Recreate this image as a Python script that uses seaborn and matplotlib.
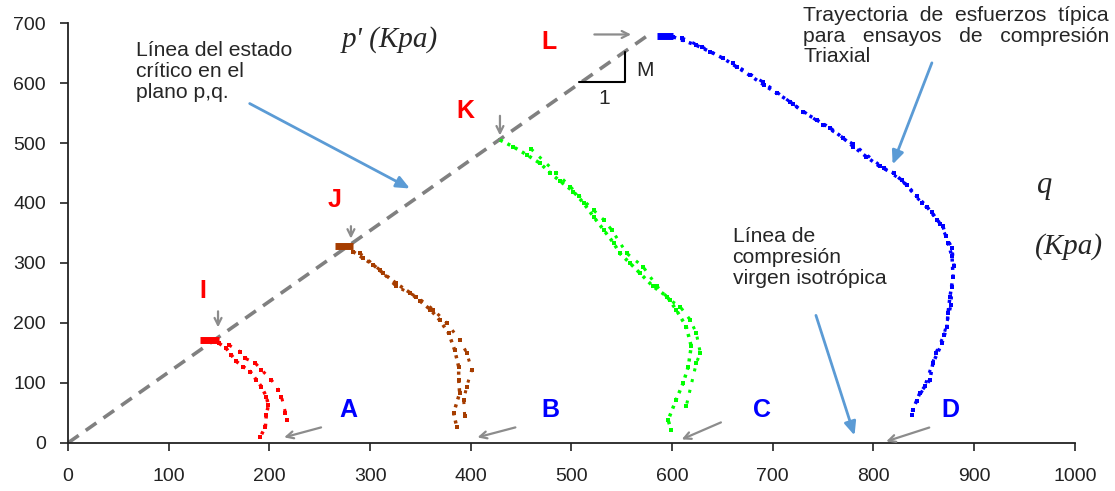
import matplotlib
matplotlib.use('Agg')
import matplotlib.pyplot as plt
import seaborn as sns

# Data (p' in x, q in y, kPa)
csl_p = [0, 578]
csl_q = [0, 682]

# I -> A (red)
red_cap_p = [131, 150]
red_cap_q = [172, 172]
red_main_p = [150, 157, 162, 167, 174, 181, 187, 192, 197, 199, 197, 196, 191]
red_main_q = [166, 158, 147, 136, 127, 119, 105, 94, 77, 63, 47, 27, 10]
red_out_p = [160, 171, 176, 186, 192, 202, 209, 212, 216, 217]
red_out_q = [163, 152, 141, 133, 122, 105, 88, 77, 50, 38]

# J -> B (brown)
brown_cap_p = [265, 283]
brown_cap_q = [328, 328]
brown_main_p = [283, 293, 303, 313, 326, 340, 350, 360, 369, 378, 384, 388, 388, 389, 383, 386]
brown_main_q = [319, 308, 297, 283, 266, 250, 236, 222, 205, 183, 155, 127, 105, 83, 50, 27]
brown_out_p = [290, 310, 326, 346, 363, 376, 389, 396, 401, 396, 393, 394]
brown_out_q = [316, 288, 261, 244, 222, 200, 172, 150, 122, 94, 72, 44]

# K -> C (green)
green_main_p = [429, 442, 456, 469, 479, 489, 502, 512, 522, 532, 542, 548, 558, 568,
                581, 595, 604, 614, 619, 616, 611, 604, 596, 599]
green_main_q = [505, 494, 480, 466, 450, 436, 419, 400, 377, 355, 333, 316, 300, 283,
                261, 244, 222, 194, 161, 127, 100, 72, 38, 22]
green_out_p = [460, 485, 499, 508, 522, 532, 540, 555, 571, 585, 598, 608, 618, 624,
               628, 624, 614]
green_out_q = [490, 450, 427, 411, 388, 372, 355, 316, 294, 261, 238, 227, 205, 183,
               150, 133, 61]

# L -> D (blue)
blue_cap_p = [585, 601]
blue_cap_q = [678, 678]
blue_main_p = [601, 611, 624, 638, 651, 664, 677, 691, 704, 717, 730, 744, 757, 770,
               780, 793, 806, 820, 833, 843, 853, 863, 869, 874, 878, 879, 876, 874,
               873, 868, 859, 856, 846, 839, 838]
blue_main_q = [677, 671, 663, 652, 641, 627, 613, 597, 583, 569, 552, 538, 525, 508,
               494, 477, 461, 450, 430, 411, 394, 372, 361, 333, 311, 277, 244, 216,
               194, 166, 133, 105, 83, 55, 47]
blue_out_p = [610, 630, 660, 690, 720, 750, 780, 810, 828, 848, 858, 866, 872, 878,
              880, 878, 877, 870, 862, 851, 843]
blue_out_q = [675, 660, 633, 602, 565, 530, 498, 458, 438, 400, 385, 365, 345, 325,
              295, 260, 230, 180, 150, 95, 70]

# slope triangle
tri_p = [508, 553, 553]
tri_q = [602, 602, 652]

sns.set_style("ticks")
plt.rcParams['font.family'] = ['Liberation Sans', 'DejaVu Sans']

fig = plt.figure(figsize=(11.15, 4.91), dpi=100)
ax = fig.add_axes([0.061, 0.098, 0.903, 0.855])

# linea de estado critico
sns.lineplot(x=csl_p, y=csl_q, color='#808080', lw=2.6, dashes=False,
             linestyle=(0, (3.6, 2.4)), ax=ax)

paths = [
    ('#ff0000', red_cap_p, red_cap_q, red_main_p, red_main_q, red_out_p, red_out_q),
    ('#a63d00', brown_cap_p, brown_cap_q, brown_main_p, brown_main_q, brown_out_p, brown_out_q),
    ('#00ff00', None, None, green_main_p, green_main_q, green_out_p, green_out_q),
    ('#0000ff', blue_cap_p, blue_cap_q, blue_main_p, blue_main_q, blue_out_p, blue_out_q),
]
for col, cp, cq, mp, mq, op, oq in paths:
    if cp is not None:
        sns.lineplot(x=cp, y=cq, color=col, lw=5, sort=False, estimator=None,
                     solid_capstyle='butt', ax=ax)
    sns.lineplot(x=mp, y=mq, color=col, lw=2.5, sort=False, estimator=None,
                 linestyle=(0, (0.9, 1.5)), dash_capstyle='butt', ax=ax)
    sns.lineplot(x=op, y=oq, color=col, lw=2.2, sort=False, estimator=None,
                 linestyle=(0, (1, 2.6)), dash_capstyle='butt', ax=ax)
    sns.scatterplot(x=mp + op, y=mq + oq, color=col, marker='s', s=7,
                    linewidth=0, ax=ax)

sns.lineplot(x=tri_p, y=tri_q, color='black', lw=1.5, sort=False, estimator=None, ax=ax)
ax.text(573, 621, 'M', fontsize=15, ha='center', va='center')
ax.text(533, 574, '1', fontsize=15, ha='center', va='center')

ax.set_xlim(0, 1000)
ax.set_ylim(0, 700)
ax.set_xticks(range(0, 1001, 100))
ax.set_yticks(range(0, 701, 100))
ax.tick_params(axis='x', labelsize=14, length=6, width=1.2, pad=12, colors='#222222')
ax.tick_params(axis='y', labelsize=14, length=6, width=1.2, pad=10, colors='#222222')
for s in ['top', 'right']:
    ax.spines[s].set_visible(False)
for s in ['left', 'bottom']:
    ax.spines[s].set_linewidth(1.3)
    ax.spines[s].set_color('#222222')
ax.set_xlabel('')
ax.set_ylabel('')

# etiquetas de puntos
for t, x, y in [('I', 134, 253), ('J', 265, 405), ('K', 395, 553), ('L', 478, 668)]:
    ax.text(x, y, t, color='#ff0000', fontsize=18, fontweight='bold',
            ha='center', va='center')
for t, x, y in [('A', 278, 55), ('B', 479, 55), ('C', 689, 55), ('D', 876, 55)]:
    ax.text(x, y, t, color='#0000ff', fontsize=18, fontweight='bold',
            ha='center', va='center')

gray = dict(arrowstyle='->,head_length=0.5,head_width=0.25', color='#8c8c8c', lw=1.6)
gray_arrows = [
    ((149, 224), (149, 188)),
    ((281, 366), (281, 336)),
    ((429, 550), (429, 508)),
    ((520, 681), (562, 681)),
    ((254, 27), (212, 8)),
    ((447, 27), (404, 8)),
    ((651, 36), (607, 4)),
    ((858, 27), (810, 1)),
]
for start, end in gray_arrows:
    ax.annotate('', xy=end, xytext=start, arrowprops=gray, annotation_clip=False)

blue = dict(arrowstyle='-|>,head_length=0.8,head_width=0.35', color='#5b9bd5', lw=2)
ax.annotate('', xy=(342, 422), xytext=(178, 568), arrowprops=blue)
ax.annotate('', xy=(818, 460), xytext=(859, 638), arrowprops=blue)
ax.annotate('', xy=(782, 8), xytext=(742, 217), arrowprops=blue)

ax.text(68, 670, 'Línea del estado\ncrítico en el\nplano p,q.', fontsize=15.2,
        ha='left', va='top', linespacing=1.12)
ax.text(730, 728, 'Trayectoria  de  esfuerzos  típica\npara   ensayos   de   compresión\nTriaxial',
        fontsize=15.2, ha='left', va='top', linespacing=1.1, clip_on=False)
ax.text(660, 360, 'Línea de\ncompresión\nvirgen isotrópica', fontsize=15.2,
        ha='left', va='top', linespacing=1.12)

serif = ['Liberation Serif', 'DejaVu Serif']
ax.text(320, 672, "p' (Kpa)", fontsize=21, style='italic', ha='center', va='center',
        family=serif)
ax.text(970, 430, 'q', fontsize=22, style='italic', ha='center', va='center', family=serif)
ax.text(994, 327, '(Kpa)', fontsize=21, style='italic', ha='center', va='center',
        family=serif, clip_on=False)

fig.savefig('out.png', dpi=100)
plt.close(fig)
